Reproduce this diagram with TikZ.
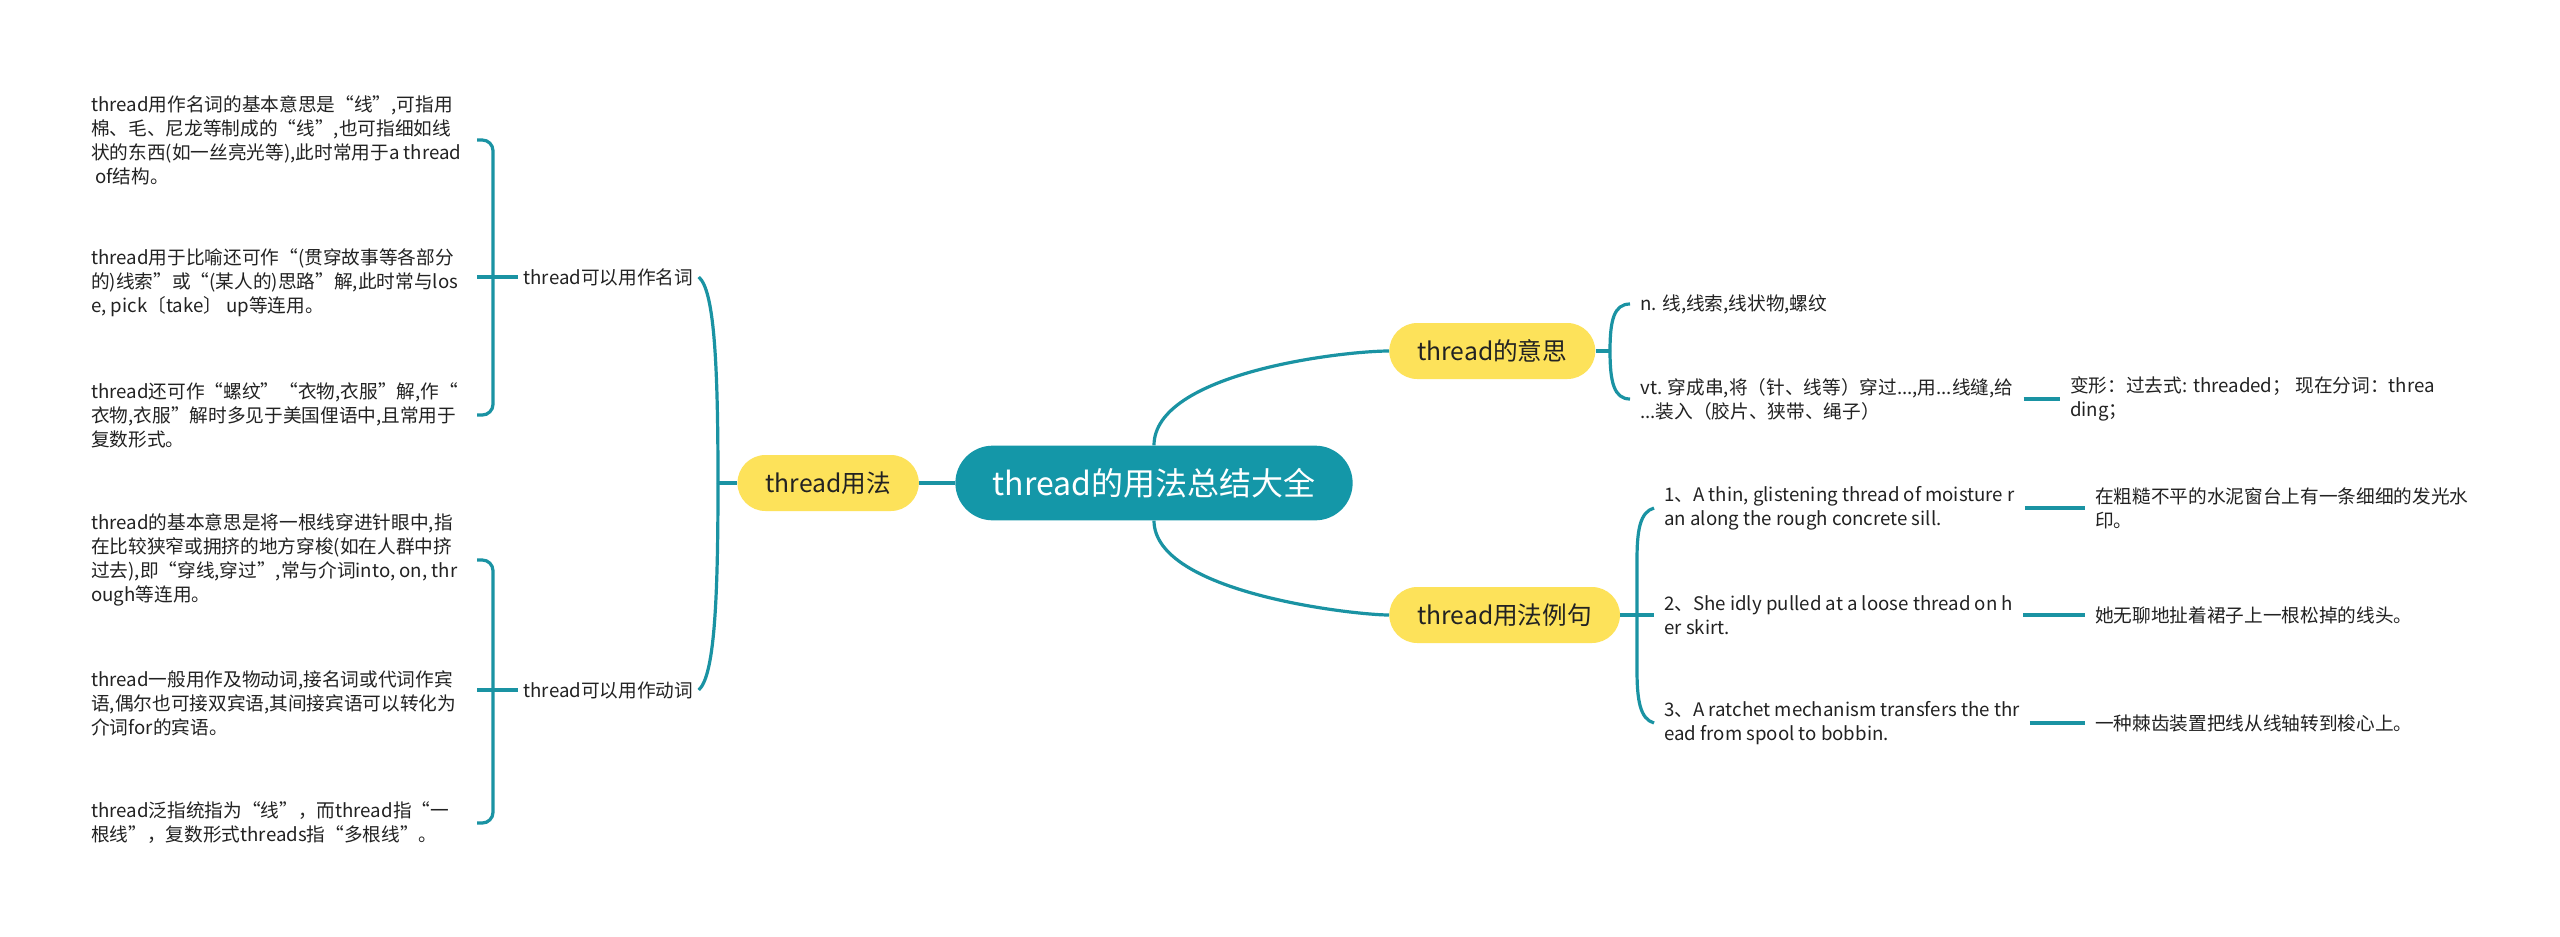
\documentclass[tikz,border=0pt]{standalone}
\usepackage{fontspec}
\setmainfont{Noto Sans CJK SC}
\usepackage{tikz}
\usetikzlibrary{positioning}
\definecolor{MapTeal}{HTML}{1497A8}
\definecolor{MapLine}{HTML}{1A93A3}
\definecolor{MapYellow}{HTML}{FDE25A}
\definecolor{MapInk}{HTML}{222222}

\begin{document}
\begin{tikzpicture}[
  x=0.75pt,y=-0.75pt,
  root/.style={rounded corners=28pt,fill=MapTeal,text=white,minimum height=56pt,
    inner xsep=28pt,font=\fontsize{24pt}{28pt}\selectfont},
  topic/.style={rounded corners=21pt,fill=MapYellow,text=MapInk,minimum height=42pt,
    inner xsep=21pt,font=\fontsize{18.5pt}{22pt}\selectfont},
  branch/.style={inner xsep=4pt,inner ysep=0pt,text=MapInk,font=\fontsize{14pt}{18pt}\selectfont},
  leaf/.style={align=left,inner sep=0pt,anchor=west,text=MapInk,font=\fontsize{14pt}{18pt}\selectfont},
  rnote/.style={align=left,inner xsep=7.5pt,inner ysep=0pt,anchor=west,text=MapInk,
    font=\fontsize{14pt}{18pt}\selectfont},
  conn/.style={draw=MapLine,line width=2.4pt}
]
  \fill[white] (0,0) rectangle (2560,936);

  % centre and main topics
  \node[root] (centre) at (1154,483) {thread的用法总结大全};
  \node[topic,left=27pt of centre] (usage) {thread用法};
  \node[topic,anchor=west] (meaning) at (1389,351) {thread的意思};
  \node[topic,anchor=west] (examples) at (1389,615) {thread用法例句};

  % left side
  \node[branch,anchor=west] (noun) at (518,277) {thread可以用作名词};
  \node[branch,anchor=west] (verb) at (518,690) {thread可以用作动词};

  \node[leaf] (n1) at (91,140) {thread用作名词的基本意思是“线”,可指用\\棉、毛、尼龙等制成的“线”,也可指细如线\\状的东西(如一丝亮光等),此时常用于a thread\\~of结构。};
  \node[leaf] (n2) at (91,283) {thread用于比喻还可作“(贯穿故事等各部分\\的)线索”或“(某人的)思路”解,此时常与los\\e, pick〔take〕 up等连用。};
  \node[leaf] (n3) at (91,415) {thread还可作“螺纹”“衣物,衣服”解,作“\\衣物,衣服”解时多见于美国俚语中,且常用于\\复数形式。};
  \node[leaf] (v1) at (91,560) {thread的基本意思是将一根线穿进针眼中,指\\在比较狭窄或拥挤的地方穿梭(如在人群中挤\\过去),即“穿线,穿过”,常与介词into, on, thr\\ough等连用。};
  \node[leaf] (v2) at (91,703) {thread一般用作及物动词,接名词或代词作宾\\语,偶尔也可接双宾语,其间接宾语可以转化为\\介词for的宾语。};
  \node[leaf] (v3) at (91,823) {thread泛指统指为“线”，而thread指“一\\根线”，复数形式threads指“多根线”。};

  \coordinate (ub) at (718,483);
  \coordinate (nb) at (477,277);
  \coordinate (vb) at (477,690);

  % right side
  \node[rnote] (nn) at (1630,304) {n. 线,线索,线状物,螺纹};
  \node[rnote] (vt) at (1630,399) {vt. 穿成串,将（针、线等）穿过...,用...线缝,给\\...装入（胶片、狭带、绳子）};
  \node[rnote] (form) at (2060,399) {变形：过去式: threaded；\ 现在分词：threa\\ding；};

  \node[rnote] (ex1) at (1654,508) {1、A thin, glistening thread of moisture r\\an along the rough concrete sill.};
  \node[rnote] (ex2) at (1654,615) {2、She idly pulled at a loose thread on h\\er skirt.};
  \node[rnote] (ex3) at (1654,723) {3、A ratchet mechanism transfers the thr\\ead from spool to bobbin.};
  \node[rnote] (tr1) at (2085,508) {在粗糙不平的水泥窗台上有一条细细的发光水\\印。};
  \node[rnote] (tr2) at (2085,615) {她无聊地扯着裙子上一根松掉的线头。};
  \node[rnote] (tr3) at (2085,723) {一种棘齿装置把线从线轴转到梭心上。};

  \coordinate (mb) at (1610,351);

  % connectors
  \draw[conn] (usage) -- (centre);
  \draw[conn] (centre) .. controls +(0,-110) and +(-150,0) .. (meaning);
  \draw[conn] (centre) .. controls +(0,110) and +(-150,0) .. (examples);

  \draw[conn] (usage.west) -- (ub);
  \draw[conn] (ub) .. controls (718,360) and (714,290) .. (noun.east);
  \draw[conn] (ub) .. controls (718,606) and (714,676) .. (verb.east);

  \draw[conn] (nb) -- (noun);
  \draw[conn,rounded corners=8pt] (n1.east -| nb) -- ++(16,0) |- (n3.east -| nb);
  \draw[conn] (vb) -- (verb);
  \draw[conn,rounded corners=8pt] (v1.east -| vb) -- ++(16,0) |- (v3.east -| vb);

  \draw[conn] (meaning) -- (mb);
  \draw[conn] (mb) .. controls (1610,320) and (1614,304) .. (nn.west);
  \draw[conn] (mb) .. controls (1610,382) and (1614,399) .. (vt.west);
  \draw[conn] (vt) -- (form);

  \draw[conn] (examples) -- (ex2);
  \draw[conn] (ex1.west) .. controls (1640,512) and (1637,530) .. (1637,560)
    -- (1637,670) .. controls (1637,700) and (1640,719) .. (ex3.west);
  \draw[conn] (ex1) -- (tr1);
  \draw[conn] (ex2) -- (tr2);
  \draw[conn] (ex3) -- (tr3);
\end{tikzpicture}
\end{document}
